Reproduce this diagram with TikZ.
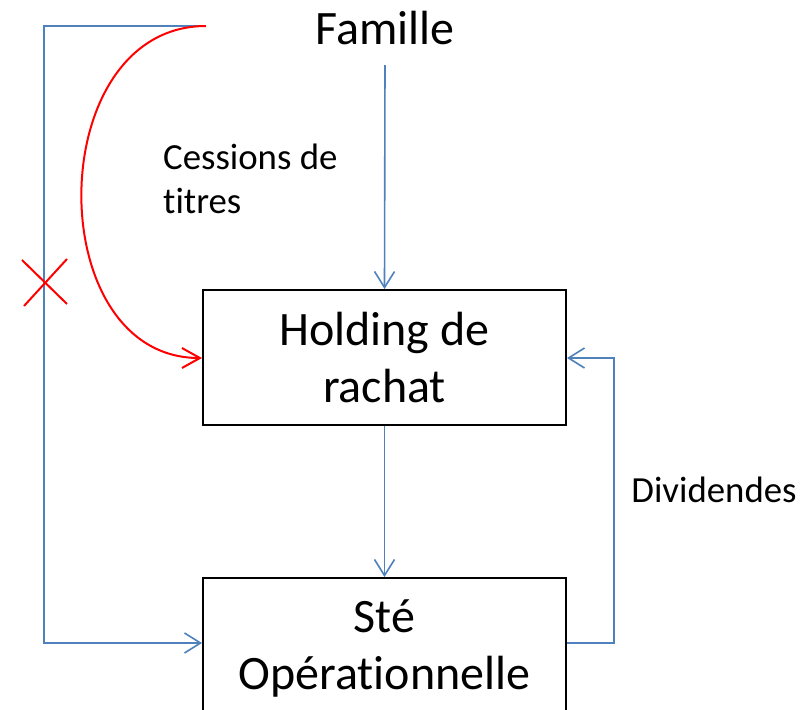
\documentclass[tikz,border=0pt]{standalone}
\usepackage{fontspec}
\setmainfont{Carlito}[Ligatures={NoCommon}]
\usetikzlibrary{arrows.meta}
\definecolor{oblue}{RGB}{79,129,189}
\begin{document}
\begin{tikzpicture}[x=1pt,y=-1pt,
  big/.style={font=\fontsize{48}{57}\selectfont},
  small/.style={font=\fontsize{36.8}{43.5}\selectfont},
  box/.style={draw=black, line width=2pt, minimum width=363pt, align=center, inner sep=0pt, big},
  bline/.style={draw=oblue, line width=1.6pt},
  barrow/.style={bline, -{Straight Barb[length=16pt,width=20pt]}},
  rline/.style={draw=red, line width=2pt},
  rarrow/.style={rline, -{Straight Barb[length=18pt,width=20pt]}},
  lbl/.style={inner sep=0pt, align=left}
]
\clip (0,0) rectangle (807,710);
\fill[white] (0,0) rectangle (807,710);

\node[inner sep=0pt, big] (fam) at (385,28) {Famille};
\node[box, minimum height=135pt] (hold) at (384.5,357.5) {Holding de\\rachat};
\node[box, minimum height=140pt] (ste) at (384.5,648) {Sté\\Opérationnelle};
\node[lbl, small, anchor=west] (cess) at (163,179) {Cessions de\\titres};
\node[lbl, small] (div) at (714,490) {Dividendes};

\coordinate (start) at (206,26);
\coordinate (tl) at (44,26);
\coordinate (bl) at (44,643);
\coordinate (fstart) at (385,65);
\coordinate (dr) at (614,643);
\coordinate (dt) at (614,358);
\coordinate (cross) at (44,283);

% Famille -> Holding
\draw[barrow] (fstart) -- (hold.north);
% Holding -> Ste
\draw[barrow] (hold.south) -- (ste.north);
% left loop
\draw[barrow] (start) -- (tl) -- (bl) -- (ste.west |- bl);
% dividends
\draw[barrow] (ste.east |- dr) -- (dr) -- (dt) -- (hold.east |- dt);
% red curve
\draw[rarrow] (start) .. controls (42,26) and (40,358) .. (hold.west |- dt);
% cross
\draw[rline] (cross) +(-22,-23) -- +(23,21);
\draw[rline] (cross) +(23,-24) -- +(-20,23);
\end{tikzpicture}
\end{document}
